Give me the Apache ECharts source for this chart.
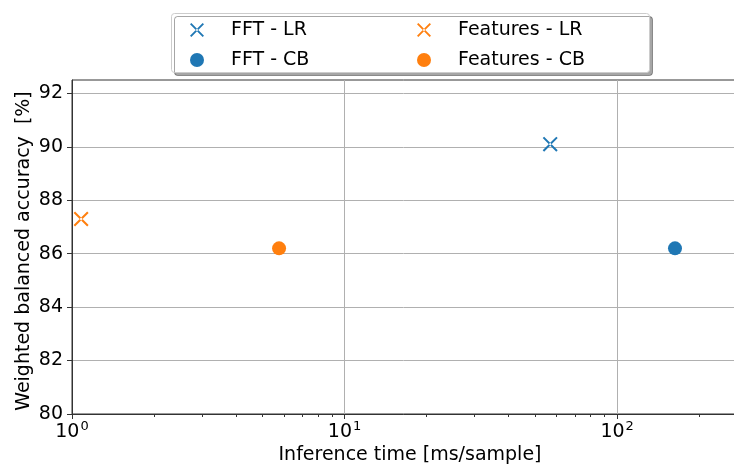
<!DOCTYPE html>
<html>
<head>
<meta charset="utf-8">
<script src="https://cdn.jsdelivr.net/npm/echarts@6/dist/echarts.min.js"></script>
<style>html,body{margin:0;padding:0;background:#fff}#c{width:734px;height:466px}</style>
</head>
<body>
<div id="c"></div>
<script>
// Data
const seriesNames = ['FFT - LR', 'FFT - CB', 'Features - LR', 'Features - CB'];
const fftLR = [[56.8, 90.1]];
const fftCB = [[163, 86.2]];
const featLR = [[1.08, 87.3]];
const featCB = [[5.75, 86.2]];
const xMajorTicks = [1, 10, 100];
const xMinorTicks = [2, 3, 4, 5, 6, 7, 8, 9, 20, 30, 40, 50, 60, 70, 80, 90, 200, 300];
const yTicks = [80, 82, 84, 86, 88, 90, 92];
const xMin = 1, xMax = 302;

const FONT = 'DejaVu Sans';
const FS = 19;
const BLUE = '#1f77b4', ORANGE = '#ff7f0e';
const XPATH = 'path://M5.3,-5.3L105.3,94.7L94.7,105.3L-5.3,5.3ZM94.7,-5.3L-5.3,94.7L5.3,105.3L105.3,5.3Z';

const chart = echarts.init(document.getElementById('c'), null, {renderer: 'canvas'});
const axisLineStyle = {color: '#333', width: 1};
const xBase = {
  type: 'log', logBase: 10, min: xMin, max: xMax, gridIndex: 0, position: 'bottom'
};
const legendText = {fontFamily: FONT, fontSize: FS, color: '#000', lineHeight: 19, padding: [0, 0, 0, 22]};
chart.setOption({
  animation: false,
  grid: {left: 72, width: 676, top: 80, bottom: 52, show: true, borderColor: '#333', borderWidth: 1, containLabel: false, outerBoundsMode: 'none'},
  graphic: [{
    type: 'rect', left: 171, top: 13, z: 0,
    shape: {width: 478, height: 59, r: 3},
    style: {fill: '#fff', stroke: '#ccc', lineWidth: 1, shadowColor: 'rgba(0,0,0,0.35)', shadowBlur: 0, shadowOffsetX: 3, shadowOffsetY: 3}
  }],
  legend: [
    {data: [seriesNames[0], seriesNames[1]], orient: 'vertical', left: 190, top: 20.5, padding: 0, itemWidth: 14, itemHeight: 14, itemGap: 11, z: 5,
     textStyle: legendText},
    {data: [seriesNames[2], seriesNames[3]], orient: 'vertical', left: 417, top: 20.5, padding: 0, itemWidth: 14, itemHeight: 14, itemGap: 11, z: 5,
     textStyle: legendText}
  ],
  xAxis: [
    Object.assign({}, xBase, {
      name: 'Inference time [ms/sample]', nameLocation: 'middle', nameGap: 32, nameMoveOverlap: false,
      nameTextStyle: {fontFamily: FONT, fontSize: FS, color: '#000'},
      axisLine: {show: true, lineStyle: axisLineStyle},
      axisTick: {show: true, inside: false, length: 5, lineStyle: {color: '#333', width: 1}, customValues: xMajorTicks},
      axisLabel: {
        customValues: xMajorTicks, margin: 6,
        formatter: function (v) { return '{b|10}{s|' + Math.round(Math.log10(v)) + '}'; },
        rich: {
          b: {fontFamily: FONT, fontSize: FS, color: '#000', lineHeight: 22, verticalAlign: 'bottom'},
          s: {fontFamily: FONT, fontSize: 13, color: '#000', lineHeight: 22, verticalAlign: 'top', padding: [0, 0, 0, 1]}
        }
      },
      splitLine: {show: true, lineStyle: {color: '#b0b0b0', width: 1}},
      minorTick: {show: false}
    }),
    Object.assign({}, xBase, {
      axisLine: {show: false},
      axisTick: {show: true, inside: false, length: 3, lineStyle: {color: '#333', width: 1}, customValues: xMinorTicks},
      axisLabel: {show: false},
      splitLine: {show: false}
    })
  ],
  yAxis: {
    type: 'value', min: 80, max: 92.5, interval: 2,
    name: 'Weighted balanced accuracy  [%]', nameLocation: 'middle', nameGap: 38, nameMoveOverlap: false,
    nameTextStyle: {fontFamily: FONT, fontSize: FS, color: '#000', padding: [0, 8, 0, 0]},
    axisLine: {show: true, lineStyle: axisLineStyle},
    axisTick: {show: true, inside: false, length: 5, lineStyle: {color: '#333', width: 1}, customValues: yTicks},
    axisLabel: {customValues: yTicks, fontFamily: FONT, fontSize: FS, color: '#000', margin: 9},
    splitLine: {show: true, lineStyle: {color: '#b0b0b0', width: 1}}
  },
  series: [
    {name: seriesNames[0], type: 'scatter', data: fftLR, symbol: XPATH, symbolSize: 15, itemStyle: {color: BLUE, opacity: 1}, z: 3},
    {name: seriesNames[1], type: 'scatter', data: fftCB, symbol: 'circle', symbolSize: 14, itemStyle: {color: BLUE, opacity: 1}, z: 3},
    {name: seriesNames[2], type: 'scatter', data: featLR, symbol: XPATH, symbolSize: 15, itemStyle: {color: ORANGE, opacity: 1}, z: 3},
    {name: seriesNames[3], type: 'scatter', data: featCB, symbol: 'circle', symbolSize: 14, itemStyle: {color: ORANGE, opacity: 1}, z: 3}
  ]
});
</script>
</body>
</html>
